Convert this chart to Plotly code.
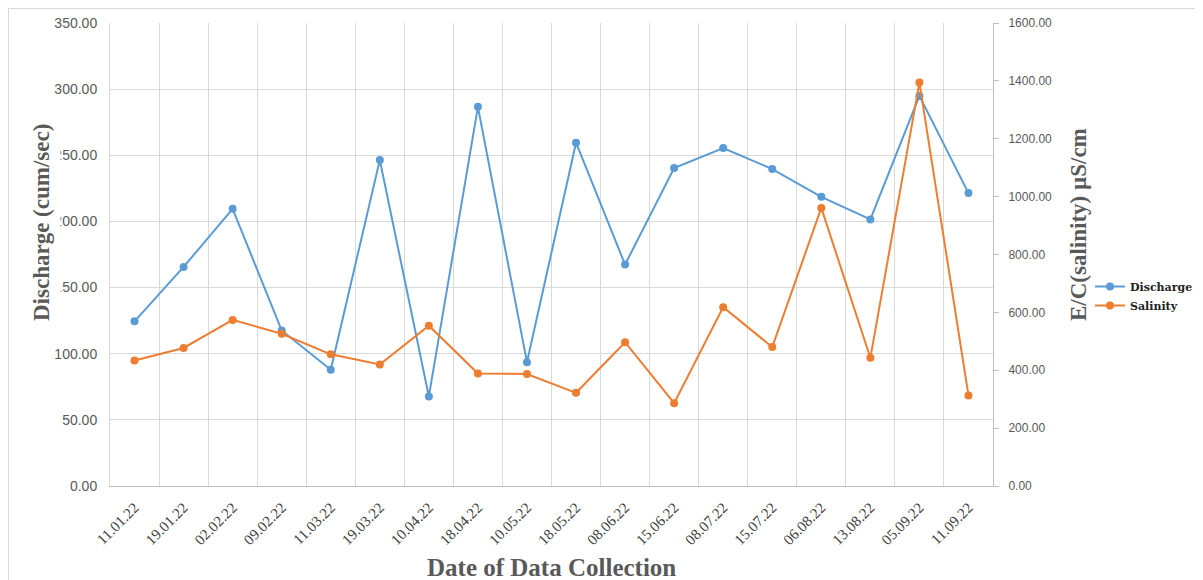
import plotly.graph_objects as go

dates = ["11.01.22", "19.01.22", "02.02.22", "09.02.22", "11.03.22", "19.03.22",
         "10.04.22", "18.04.22", "10.05.22", "18.05.22", "08.06.22", "15.06.22",
         "08.07.22", "15.07.22", "06.08.22", "13.08.22", "05.09.22", "11.09.22"]

discharge = [124.5, 165.6, 209.5, 117.6, 87.9, 246.4, 67.7, 286.6, 93.6,
             259.5, 167.4, 240.4, 255.5, 239.6, 218.6, 201.5, 294.9, 221.4]

salinity = [434, 477, 574, 526, 455, 420, 554, 389, 387,
            322, 497, 286, 618, 480, 961, 443, 1394, 313]

left_ticks = [0, 50, 100, 150, 200, 250, 300, 350]
right_ticks = [0, 200, 400, 600, 800, 1000, 1200, 1400, 1600]

BLUE = "#5B9BD5"
ORANGE = "#ED7D31"
GRID = "#D9D9D9"
TXT = "#595959"

# The page body has an 8px margin, so the figure starts at (8, 8) on screen.
OFF = 8
SW, SH = 1203, 580
W, H = SW - OFF, SH - OFF
# plot area in screen pixels
L, R, T, B = 110, 993, 23, 486
pw, ph = R - L, B - T


def px(x):
    return (x - L) / pw


def py(y):
    return (B - y) / ph


def cx(x):
    return (x - OFF) / W


def cy(y):
    return 1 - (y - OFF) / H


fig = go.Figure()
fig.add_trace(go.Scatter(
    x=dates, y=discharge, name="<b>Discharge</b>", mode="lines+markers",
    line=dict(color=BLUE, width=2), marker=dict(color=BLUE, size=8),
    yaxis="y"))
fig.add_trace(go.Scatter(
    x=dates, y=salinity, name="<b>Salinity</b>", mode="lines+markers",
    line=dict(color=ORANGE, width=2), marker=dict(color=ORANGE, size=8),
    yaxis="y2"))

fig.update_layout(
    width=W, height=H,
    margin=dict(l=L - OFF, r=SW - R, t=T - OFF, b=SH - B, autoexpand=False),
    paper_bgcolor="white", plot_bgcolor="white",
    font=dict(family="Liberation Sans", color=TXT),
    xaxis=dict(
        type="category", tickson="boundaries", showgrid=True, gridcolor=GRID,
        gridwidth=1, showline=True, linecolor="#BFBFBF", linewidth=1,
        tickangle=-45, tickfont=dict(size=15, color="#404040", family="Liberation Serif"),
        ticks="", ticklabelstandoff=6, automargin=False,
        range=[-0.5, len(dates) - 0.5], zeroline=False,
    ),
    yaxis=dict(
        range=[0, 350], tickvals=left_ticks, tickformat=".2f",
        showgrid=True, gridcolor=GRID, gridwidth=1, zeroline=False,
        showline=True, linecolor=GRID, ticks="", ticklabelstandoff=9,
        automargin=False,
        tickfont=dict(size=14, color=TXT, family="Liberation Sans"),
    ),
    yaxis2=dict(
        range=[0, 1600], tickvals=right_ticks, tickformat=".2f",
        overlaying="y", side="right", showgrid=False, zeroline=False,
        showline=True, linecolor="#BFBFBF", ticks="outside", ticklen=5,
        tickcolor="#BFBFBF", ticklabelstandoff=7, automargin=False,
        tickfont=dict(size=12, color=TXT, family="Liberation Sans"),
    ),
    legend=dict(
        xref="container", yref="container",
        x=cx(1090), y=cy(296), xanchor="left", yanchor="middle",
        font=dict(family="DejaVu Serif", size=11, color="#222222"),
        bgcolor="rgba(0,0,0,0)", itemwidth=30, tracegroupgap=0,
    ),
    showlegend=True,
)

fig.add_annotation(
    text="<b>Discharge (cum/sec)</b>", textangle=-90,
    xref="paper", yref="paper", x=px(41), y=py(223),
    xanchor="center", yanchor="middle", showarrow=False,
    font=dict(family="Liberation Serif", size=23, color=TXT),
    bgcolor="white", borderpad=6,
)
fig.add_annotation(
    text="<b>E/C(salinity) µS/cm</b>", textangle=-90,
    xref="paper", yref="paper", x=px(1078), y=py(225),
    xanchor="center", yanchor="middle", showarrow=False,
    font=dict(family="Liberation Serif", size=23, color=TXT),
)
fig.add_annotation(
    text="<b>Date of Data Collection</b>",
    xref="paper", yref="paper", x=px(551), y=py(567),
    xanchor="center", yanchor="middle", showarrow=False,
    font=dict(family="Liberation Serif", size=25, color=TXT),
)

# outer chart border
fig.add_shape(
    type="rect", xref="paper", yref="paper",
    x0=px(8.5), x1=px(1230), y0=py(620), y1=py(8.5),
    line=dict(color=GRID, width=1), fillcolor="rgba(0,0,0,0)", layer="below",
)

fig.write_html("out.html")
